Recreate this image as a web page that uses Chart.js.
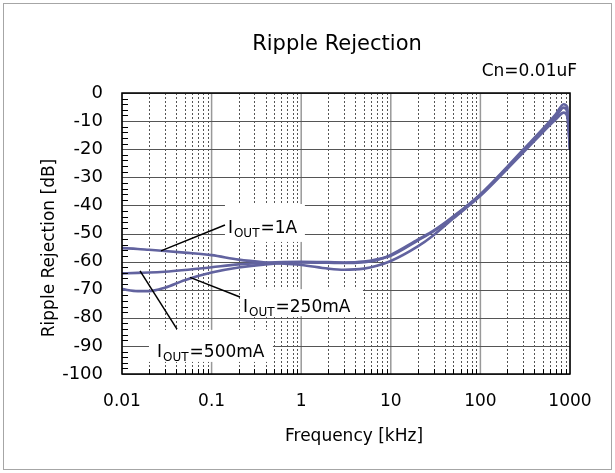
<!DOCTYPE html>
<html>
<head>
<meta charset="utf-8">
<script src="https://cdn.jsdelivr.net/npm/chart.js@4.4.1/dist/chart.umd.min.js"></script>
<style>
    html, body { margin: 0; padding: 0; background: #fff; }
</style>
</head>
<body>
<canvas id="graficoRipple" width="615" height="473"></canvas>
<script>
// Frequencia em kHz
const freqs = [0.01, 0.015, 0.02, 0.03, 0.05, 0.1, 0.2, 0.4, 1, 2, 3, 5, 7, 10, 20, 30, 50, 100, 200, 300, 500, 700, 850, 930, 1000];

// Ripple rejection em dB
const iout1A = [-55.2, -55.5, -55.8, -56.2, -56.8, -57.7, -59.3, -60.3, -61.2, -62.5, -62.9, -62.5, -61.5, -59.8, -54.6, -50.6, -44.6, -36.6, -27.0, -21.2, -13.9, -9.3, -7.0, -8.2, -20];
const iout250mA = [-69.8, -70.5, -70.5, -69.3, -66.6, -63.9, -62.1, -61.0, -60.3, -60.4, -60.5, -60.2, -59.5, -57.6, -52.2, -49.0, -43.9, -36.0, -26.2, -20.2, -12.7, -7.4, -4.0, -5.0, -20];
const iout500mA = [-64.2, -64.0, -63.9, -63.6, -63.0, -62.0, -61.0, -60.4, -60.1, -60.2, -60.3, -60.0, -59.2, -57.9, -52.5, -49.2, -44.1, -36.3, -26.6, -20.7, -13.3, -8.3, -5.2, -6.5, -20];

const xTicks = [0.01, 0.1, 1, 10, 100, 1000];
const xTickLabels = ['0.01', '0.1', '1', '10', '100', '1000'];
const yTicks = [0, -10, -20, -30, -40, -50, -60, -70, -80, -90, -100];

const titulo = 'Ripple Rejection';
const subtitulo = 'Cn=0.01uF';
const tituloX = 'Frequency [kHz]';
const tituloY = 'Ripple Rejection [dB]';

// rotulos: texto em (freq, dB), caixa branca e linha de chamada
const rotulos = [
    { depois: '=1A',    pos: [0.152, -49.8], caixa: [0.141, 1.10, -39.5, -53.0], linha: [[0.0272, -56.2], [0.141, -47.0]] },
    { depois: '=250mA', pos: [0.224, -77.8], caixa: [0.207, 4.89, -69.8, -79.4], linha: [[0.0574, -65.6], [0.207, -72.6]] },
    { depois: '=500mA', pos: [0.0246, -94.0], caixa: [0.0200, 0.484, -84.3, -95.7], linha: [[0.0159, -63.3], [0.0411, -84.0]] }
];

const cor = '#62639f';
const fonte = '"DejaVu Sans", Verdana, sans-serif';

function serie(vals) {
    return freqs.map((f, i) => ({ x: f, y: vals[i] }));
}

function minores() {
    let out = [];
    for (let d = 0.01; d < 500; d *= 10) {
        for (let m = 2; m <= 9; m++) out.push(+(m * d).toPrecision(3));
    }
    return out;
}

const moldura = {
    id: 'moldura',
    beforeDatasetsDraw(chart) {
        const { ctx, chartArea: a, scales: { x, y } } = chart;
        ctx.save();
        ctx.lineWidth = 1;
        // verticais pontilhadas
        ctx.strokeStyle = '#555';
        ctx.setLineDash([2, 2]);
        minores().forEach(v => {
            let px = Math.round(x.getPixelForValue(v)) + 0.5;
            ctx.beginPath(); ctx.moveTo(px, a.top); ctx.lineTo(px, a.bottom); ctx.stroke();
        });
        ctx.setLineDash([]);
        // decadas
        ctx.strokeStyle = '#999';
        ctx.lineWidth = 1.5;
        xTicks.forEach(v => {
            let px = x.getPixelForValue(v);
            ctx.beginPath(); ctx.moveTo(px, a.top); ctx.lineTo(px, a.bottom); ctx.stroke();
        });
        // horizontais
        ctx.strokeStyle = '#555';
        ctx.lineWidth = 1;
        yTicks.forEach(v => {
            let py = Math.round(y.getPixelForValue(v)) + 0.5;
            ctx.beginPath(); ctx.moveTo(a.left, py); ctx.lineTo(a.right, py); ctx.stroke();
        });
        ctx.restore();
    },
    afterDatasetsDraw(chart) {
        const { ctx, chartArea: a, scales: { x, y } } = chart;
        ctx.save();
        // tracos menores
        ctx.strokeStyle = '#000';
        ctx.lineWidth = 1;
        for (let v = -98; v < 0; v += 2) {
            if (v % 10 === 0) continue;
            let py = Math.round(y.getPixelForValue(v)) + 0.5;
            ctx.beginPath(); ctx.moveTo(a.left, py); ctx.lineTo(a.left + 6, py); ctx.stroke();
        }
        minores().forEach(v => {
            let px = Math.round(x.getPixelForValue(v)) + 0.5;
            ctx.beginPath(); ctx.moveTo(px, a.bottom); ctx.lineTo(px, a.bottom - 5); ctx.stroke();
        });
        ctx.lineWidth = 1.5;
        ctx.strokeRect(a.left, a.top, a.right - a.left, a.bottom - a.top);

        // rotulos das correntes
        rotulos.forEach(r => {
            let x1 = x.getPixelForValue(r.caixa[0]), x2 = x.getPixelForValue(r.caixa[1]);
            let y1 = y.getPixelForValue(r.caixa[2]), y2 = y.getPixelForValue(r.caixa[3]);
            ctx.fillStyle = '#fff';
            ctx.fillRect(x1, y1, x2 - x1, y2 - y1);
            ctx.strokeStyle = '#000';
            ctx.lineWidth = 1.5;
            ctx.beginPath();
            ctx.moveTo(x.getPixelForValue(r.linha[0][0]), y.getPixelForValue(r.linha[0][1]));
            ctx.lineTo(x.getPixelForValue(r.linha[1][0]), y.getPixelForValue(r.linha[1][1]));
            ctx.stroke();
            let tx = x.getPixelForValue(r.pos[0]), ty = y.getPixelForValue(r.pos[1]);
            ctx.fillStyle = '#000';
            ctx.textAlign = 'left';
            ctx.textBaseline = 'alphabetic';
            ctx.font = '17px ' + fonte;
            ctx.fillText('I', tx, ty);
            tx += ctx.measureText('I').width + 1;
            ctx.font = '12px ' + fonte;
            ctx.fillText('OUT', tx, ty + 4);
            tx += ctx.measureText('OUT').width + 1;
            ctx.font = '17px ' + fonte;
            ctx.fillText(r.depois, tx, ty);
        });
        ctx.restore();
    },
    afterDraw(chart) {
        const { ctx } = chart;
        ctx.save();
        ctx.fillStyle = '#000';
        ctx.textBaseline = 'middle';
        ctx.textAlign = 'center';
        ctx.font = '21px ' + fonte;
        ctx.fillText(titulo, 337, 45);
        ctx.font = '17px ' + fonte;
        ctx.textAlign = 'right';
        ctx.fillText(subtitulo, 577, 72);
        ctx.textAlign = 'center';
        ctx.fillText(tituloX, 354, 437);
        ctx.translate(50, 248);
        ctx.rotate(-Math.PI / 2);
        ctx.fillText(tituloY, 0, 0);
        ctx.restore();
        // borda externa
        ctx.save();
        ctx.strokeStyle = '#a6a6a6';
        ctx.lineWidth = 1;
        ctx.strokeRect(3.5, 3.5, 608, 466);
        ctx.restore();
    }
};

function dataset(label, vals) {
    return {
        label: label,
        data: serie(vals),
        borderColor: cor,
        borderWidth: 2.6,
        pointRadius: 0,
        fill: false,
        cubicInterpolationMode: 'monotone'
    };
}

new Chart(document.getElementById('graficoRipple'), {
    type: 'line',
    data: {
        datasets: [
            dataset('IOUT=1A', iout1A),
            dataset('IOUT=250mA', iout250mA),
            dataset('IOUT=500mA', iout500mA)
        ]
    },
    options: {
        responsive: false,
        animation: false,
        devicePixelRatio: 1,
        layout: { padding: { left: 0, top: 93, right: 45, bottom: 0 } },
        plugins: { legend: { display: false }, tooltip: { enabled: false } },
        scales: {
            x: {
                type: 'logarithmic',
                min: 0.01,
                max: 1000,
                afterBuildTicks: s => { s.ticks = xTicks.map(v => ({ value: v })); },
                afterFit: s => { s.height = 99; },
                ticks: {
                    autoSkip: false,
                    maxRotation: 0,
                    padding: 17,
                    color: '#000',
                    font: { family: fonte, size: 17 },
                    callback: (v) => xTickLabels[xTicks.indexOf(v)] || ''
                },
                grid: { display: false, drawTicks: false },
                border: { display: false }
            },
            y: {
                min: -100,
                max: 0,
                afterBuildTicks: s => { s.ticks = yTicks.map(v => ({ value: v })); },
                afterFit: s => { s.width = 122; },
                ticks: {
                    padding: 19,
                    color: '#000',
                    font: { family: fonte, size: 18 }
                },
                grid: { display: false, drawTicks: false },
                border: { display: false }
            }
        }
    },
    plugins: [moldura]
});
</script>
</body>
</html>
